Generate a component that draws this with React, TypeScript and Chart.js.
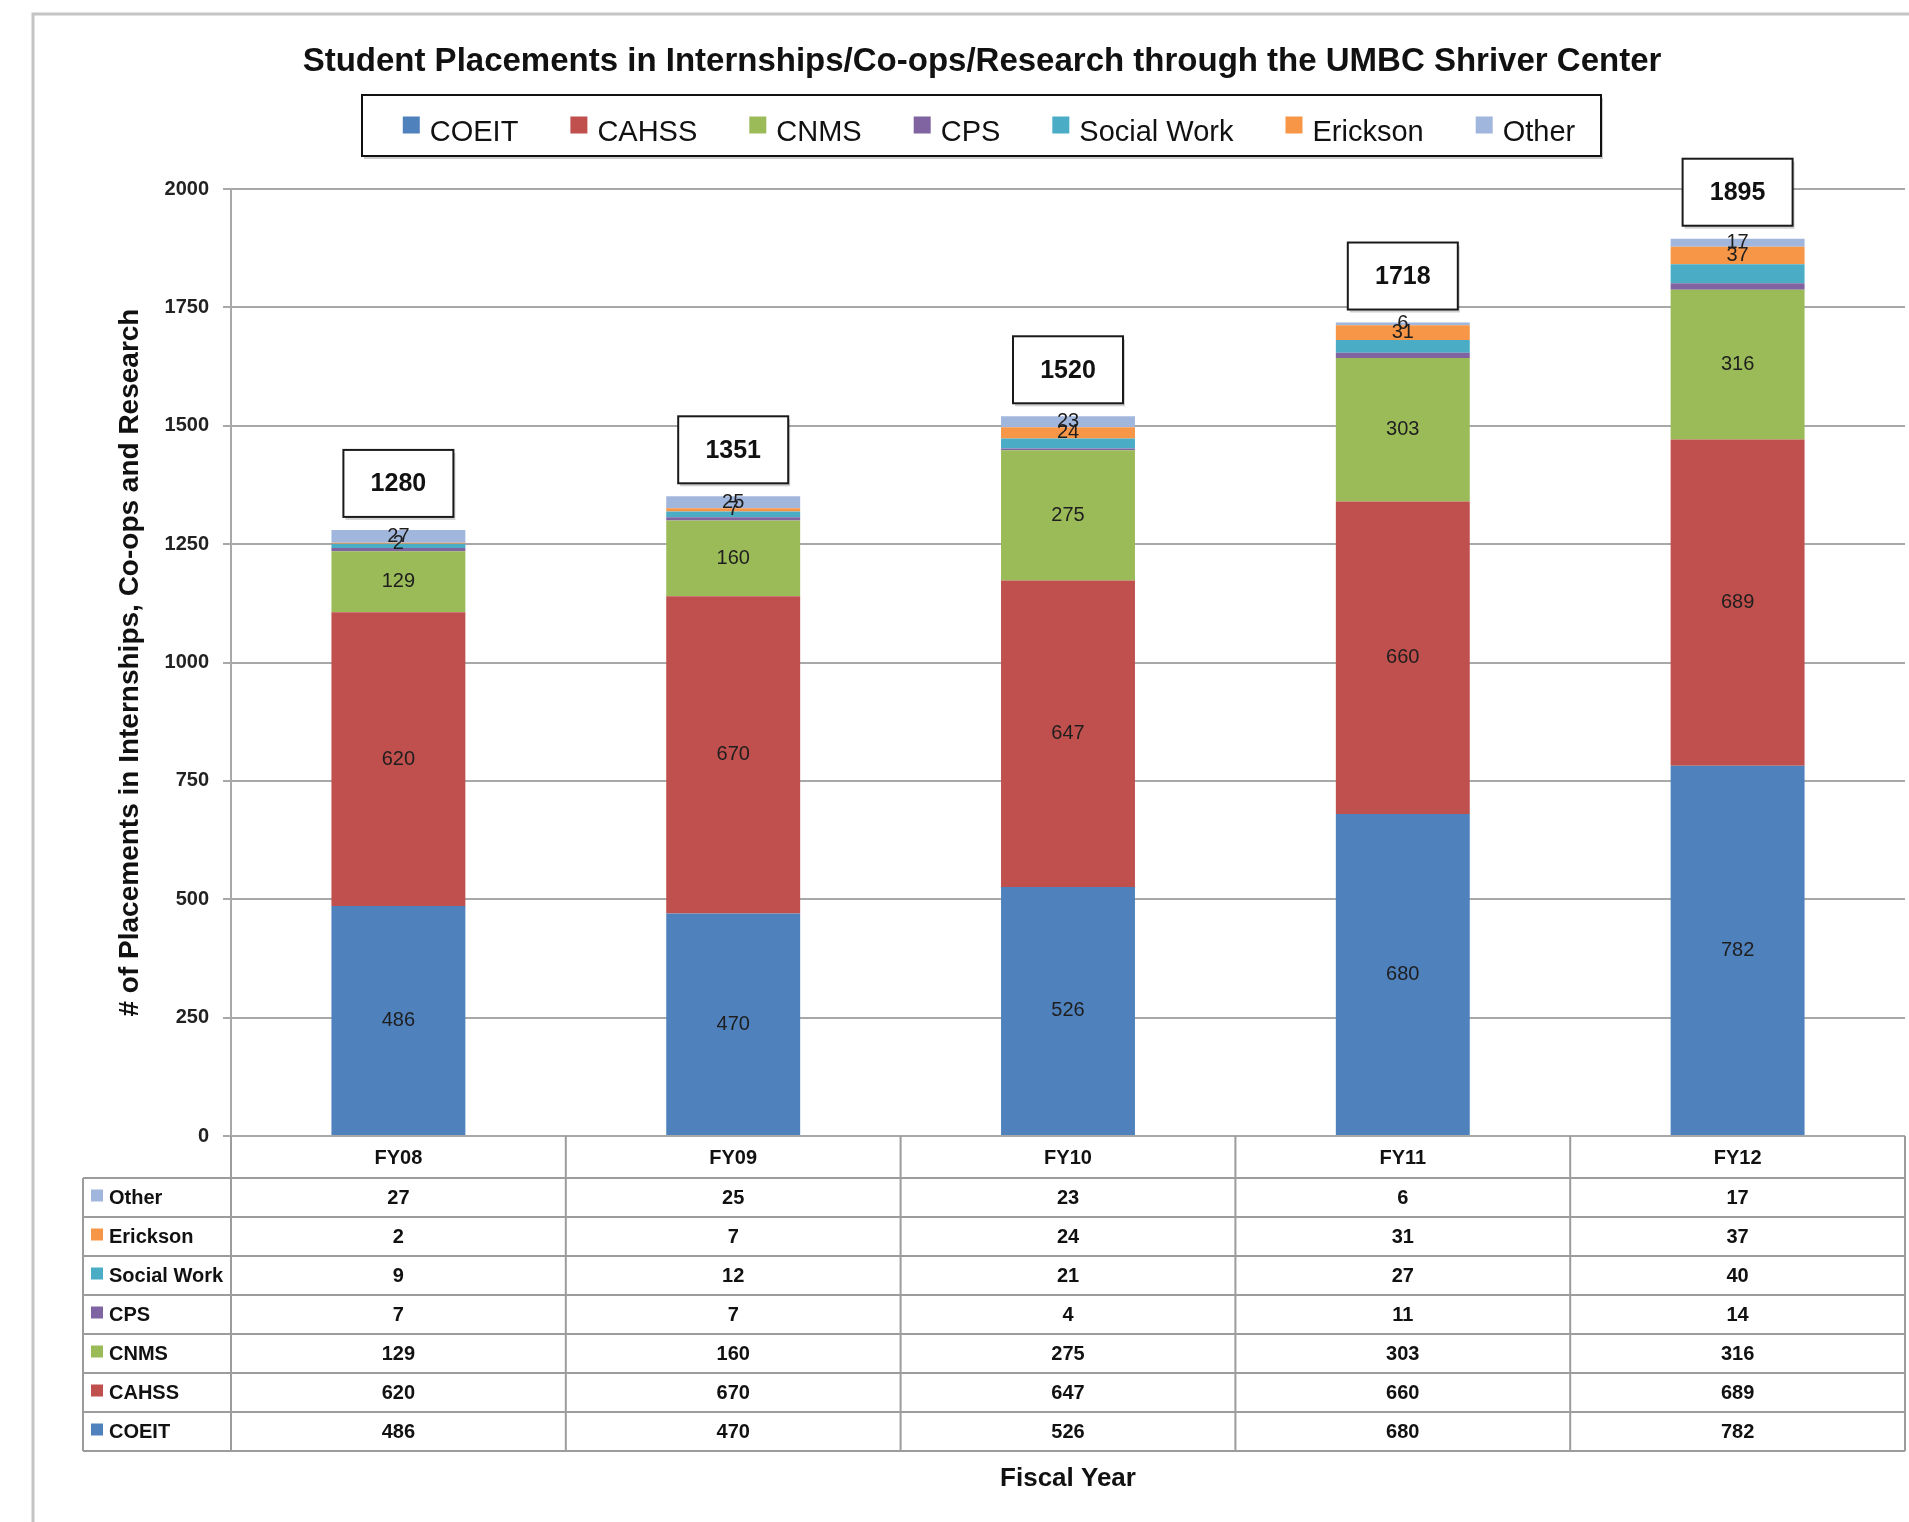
import React, { useEffect, useRef } from "react";
import { Chart, registerables } from "chart.js";

Chart.register(...registerables);

// ---- Data ----
const categories = ["FY08", "FY09", "FY10", "FY11", "FY12"];
const coeit = [486, 470, 526, 680, 782];
const cahss = [620, 670, 647, 660, 689];
const cnms = [129, 160, 275, 303, 316];
const cps = [7, 7, 4, 11, 14];
const socialWork = [9, 12, 21, 27, 40];
const erickson = [2, 7, 24, 31, 37];
const other = [27, 25, 23, 6, 17];

const seriesNames = ["COEIT", "CAHSS", "CNMS", "CPS", "Social Work", "Erickson", "Other"];
const seriesValues = [coeit, cahss, cnms, cps, socialWork, erickson, other];
const seriesColors = ["#4F81BD", "#C0504D", "#9BBB59", "#8064A2", "#4BACC6", "#F79646", "#A0B6DD"];
const labeledSeries = ["COEIT", "CAHSS", "CNMS", "Erickson", "Other"];

const yMin = 0;
const yMax = 2000;
const yStep = 250;

const titleText = "Student Placements in Internships/Co-ops/Research through the UMBC Shriver Center";
const yTitleText = "# of Placements in Internships, Co-ops and Research";
const xTitleText = "Fiscal Year";

const FONT = '"Liberation Sans", Arial, sans-serif';

const decorPlugin = {
  id: "decor",
  beforeDraw(chart: any) {
    const ctx = chart.ctx;
    ctx.save();
    ctx.fillStyle = "#ffffff";
    ctx.fillRect(0, 0, chart.width, chart.height);
    // outer frame
    ctx.strokeStyle = "#c4c4c4";
    ctx.lineWidth = 3;
    ctx.beginPath();
    ctx.moveTo(33, chart.height);
    ctx.lineTo(33, 14);
    ctx.lineTo(chart.width, 14);
    ctx.stroke();
    ctx.restore();
  },
  afterDatasetsDraw(chart: any) {
    const ctx = chart.ctx;
    ctx.save();
    ctx.font = `20px ${FONT}`;
    ctx.fillStyle = "#1e1e1e";
    ctx.textAlign = "center";
    ctx.textBaseline = "middle";
    chart.data.datasets.forEach((ds: any, i: number) => {
      if (!labeledSeries.includes(ds.label)) return;
      const meta = chart.getDatasetMeta(i);
      meta.data.forEach((el: any, j: number) => {
        const y = (el.y + el.base) / 2;
        ctx.fillText(String(ds.data[j]), el.x, y);
      });
    });
    ctx.restore();
  },
  afterDraw(chart: any) {
    const ctx = chart.ctx;
    const area = chart.chartArea;
    const n = categories.length;
    const cw = (area.right - area.left) / n;
    const datasets = chart.data.datasets;

    ctx.save();

    // totals boxes
    const topMeta = chart.getDatasetMeta(datasets.length - 1);
    categories.forEach((_, j) => {
      const total = datasets.reduce((s: number, ds: any) => s + ds.data[j], 0);
      const el = topMeta.data[j];
      const bw = 110, bh = 67;
      const bx = el.x - bw / 2;
      const by = el.y - 13 - bh;
      ctx.fillStyle = "rgba(0,0,0,0.18)";
      ctx.fillRect(bx + 2, by + 3, bw, bh);
      ctx.fillStyle = "#ffffff";
      ctx.fillRect(bx, by, bw, bh);
      ctx.strokeStyle = "#1a1a1a";
      ctx.lineWidth = 2;
      ctx.strokeRect(bx, by, bw, bh);
      ctx.fillStyle = "#111";
      ctx.font = `bold 25px ${FONT}`;
      ctx.textAlign = "center";
      ctx.textBaseline = "middle";
      ctx.fillText(String(total), el.x, by + bh / 2 + 1);
    });

    // data table
    const headerH = 42;
    const rowH = 39;
    const labelLeft = 83;
    const tTop = area.bottom;
    const headerBottom = tTop + headerH;
    const rows = datasets.map((_: any, i: number) => i).reverse();
    const tBottom = headerBottom + rows.length * rowH;

    ctx.strokeStyle = "#9c9c9c";
    ctx.lineWidth = 2;
    ctx.beginPath();
    for (let k = 0; k <= n; k++) {
      const x = Math.min(area.left + k * cw, chart.width - 2);
      ctx.moveTo(x, tTop);
      ctx.lineTo(x, tBottom);
    }
    ctx.moveTo(labelLeft, headerBottom);
    ctx.lineTo(labelLeft, tBottom);
    for (let r = 0; r <= rows.length; r++) {
      const y = headerBottom + r * rowH;
      ctx.moveTo(labelLeft, y);
      ctx.lineTo(area.right, y);
    }
    ctx.stroke();

    ctx.font = `bold 20px ${FONT}`;
    ctx.fillStyle = "#111";
    ctx.textAlign = "center";
    ctx.textBaseline = "middle";
    categories.forEach((c, j) => {
      ctx.fillText(c, area.left + (j + 0.5) * cw, tTop + headerH / 2 + 1);
    });
    rows.forEach((di: number, r: number) => {
      const ds = datasets[di];
      const cy = headerBottom + r * rowH + rowH / 2 + 1;
      ctx.fillStyle = ds.backgroundColor;
      ctx.fillRect(91, cy - 9, 12, 12);
      ctx.fillStyle = "#111";
      ctx.textAlign = "left";
      ctx.fillText(ds.label, 109, cy);
      ctx.textAlign = "center";
      ds.data.forEach((v: number, j: number) => {
        ctx.fillText(String(v), area.left + (j + 0.5) * cw, cy);
      });
    });

    // x title
    ctx.font = `bold 26px ${FONT}`;
    ctx.fillStyle = "#111";
    ctx.textAlign = "center";
    ctx.textBaseline = "middle";
    ctx.fillText(xTitleText, (area.left + area.right) / 2, 1479);

    // chart title
    const cx = 982;
    ctx.font = `bold 33px ${FONT}`;
    ctx.fillText(titleText, cx, 62);

    // legend
    const lgLeft = 362, lgTop = 95, lgRight = 1601, lgBottom = 156;
    ctx.fillStyle = "rgba(0,0,0,0.2)";
    ctx.fillRect(lgLeft + 2, lgTop + 3, lgRight - lgLeft, lgBottom - lgTop);
    ctx.fillStyle = "#fff";
    ctx.fillRect(lgLeft, lgTop, lgRight - lgLeft, lgBottom - lgTop);
    ctx.strokeStyle = "#111";
    ctx.lineWidth = 2;
    ctx.strokeRect(lgLeft, lgTop, lgRight - lgLeft, lgBottom - lgTop);

    ctx.font = `29px ${FONT}`;
    const sq = 17, sqGap = 10, itemGap = 52;
    const widths = datasets.map((ds: any) => sq + sqGap + ctx.measureText(ds.label).width);
    const total = widths.reduce((a: number, b: number) => a + b, 0) + itemGap * (datasets.length - 1);
    let x = 989 - total / 2;
    const ly = (lgTop + lgBottom) / 2 + 7;
    datasets.forEach((ds: any, i: number) => {
      ctx.fillStyle = ds.backgroundColor;
      ctx.fillRect(x, ly - 16, sq, sq);
      ctx.fillStyle = "#111";
      ctx.textAlign = "left";
      ctx.textBaseline = "middle";
      ctx.fillText(ds.label, x + sq + sqGap, ly);
      x += widths[i] + itemGap;
    });

    ctx.restore();
  },
};

export default function App() {
  const canvasRef = useRef<HTMLCanvasElement | null>(null);

  useEffect(() => {
    const canvas = canvasRef.current;
    if (!canvas) return;
    const chart = new Chart(canvas, {
      type: "bar",
      data: {
        labels: categories,
        datasets: seriesNames.map((name, i) => ({
          label: name,
          data: seriesValues[i],
          backgroundColor: seriesColors[i],
          borderWidth: 0,
          barPercentage: 0.4,
          categoryPercentage: 1,
        })),
      },
      options: {
        responsive: false,
        animation: false,
        events: [],
        layout: { padding: { left: 113, top: 189, right: 4, bottom: 386 } },
        plugins: {
          legend: { display: false },
          title: { display: false },
          tooltip: { enabled: false },
        },
        scales: {
          x: {
            stacked: true,
            display: false,
          },
          y: {
            stacked: true,
            min: yMin,
            max: yMax,
            ticks: {
              stepSize: yStep,
              color: "#222",
              padding: 14,
              font: { family: FONT, size: 20, weight: "bold" },
              callback: (v: any) => String(v),
            },
            grid: {
              color: "#a8a8a8",
              lineWidth: 2,
              tickLength: 8,
            },
            border: { color: "#a8a8a8", width: 2 },
            title: {
              display: true,
              text: yTitleText,
              color: "#111",
              padding: 0,
              font: { family: FONT, size: 28, weight: "bold" },
            },
            afterFit: (scale: any) => {
              scale.width = 118;
            },
          },
        },
      },
      plugins: [decorPlugin],
    });
    return () => chart.destroy();
  }, []);

  return (
    <div style={{ position: "absolute", left: 0, top: 0, width: 1909, height: 1522, background: "#fff" }}>
      <canvas ref={canvasRef} width={1909} height={1522} style={{ width: 1909, height: 1522, display: "block" }} />
    </div>
  );
}
